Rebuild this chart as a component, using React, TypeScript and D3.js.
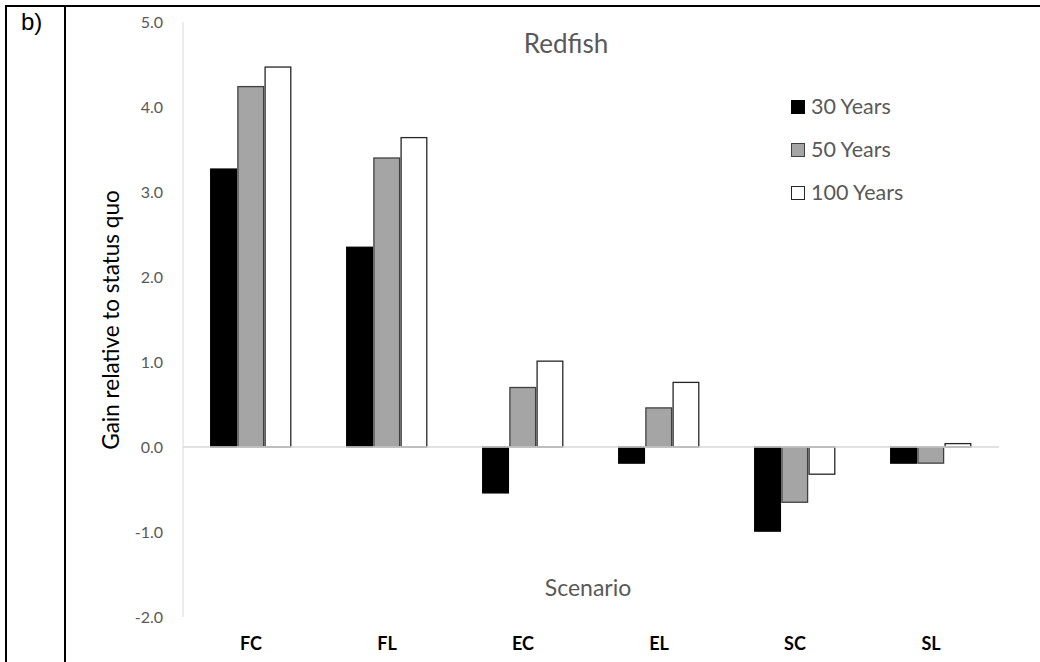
import React from 'react';
import * as d3 from 'd3';

const width = 1040;
const height = 662;
const font = 'Lato, sans-serif';
const grey = '#595959';

const scenarios = ['FC', 'FL', 'EC', 'EL', 'SC', 'SL'];
const seriesNames = ['30 Years', '50 Years', '100 Years'];
const years30 = [3.27, 2.35, -0.54, -0.19, -0.99, -0.19];
const years50 = [4.24, 3.4, 0.7, 0.46, -0.65, -0.19];
const years100 = [4.47, 3.64, 1.01, 0.76, -0.32, 0.04];
const yTicks = [5, 4, 3, 2, 1, 0, -1, -2];

const fills = ['#000000', '#a5a5a5', '#ffffff'];
const strokes = ['#000000', '#404040', '#262626'];

const plot = { left: 183, right: 999, top: 22, bottom: 617 };

// excel style: plain hyphen for negatives
const fmt = (v: number) => d3.format('.1f')(v).replace('\u2212', '-');

const App = () => {
  const series = [years30, years50, years100];

  const x0 = d3.scaleBand().domain(scenarios).range([plot.left, plot.right]);
  const x1 = d3
    .scaleBand()
    .domain(seriesNames)
    .range([0, x0.bandwidth()])
    .paddingOuter(1);
  const y = d3.scaleLinear().domain([-2, 5]).range([plot.bottom, plot.top]);

  return (
    <svg
      width={width}
      height={height}
      style={{ position: 'absolute', left: 0, top: 0, background: '#fff' }}
    >
      {/* table borders */}
      <line x1={5} x2={width} y1={6} y2={6} stroke="#000" strokeWidth={2} />
      <line x1={6} x2={6} y1={5} y2={height} stroke="#000" strokeWidth={2} />
      <line x1={65} x2={65} y1={5} y2={height} stroke="#000" strokeWidth={2} />
      <text x={21} y={30} fontFamily="'Liberation Sans', Arial, sans-serif" fontSize={24}>
        b)
      </text>

      {/* y axis */}
      <line x1={plot.left} x2={plot.left} y1={plot.top} y2={plot.bottom} stroke="#d9d9d9" />
      {yTicks.map(t => (
        <text
          key={t}
          x={163}
          y={y(t)}
          dy="0.35em"
          textAnchor="end"
          fontFamily={font}
          fontSize={16}
          fill={grey}
        >
          {fmt(t)}
        </text>
      ))}

      {/* bars */}
      {scenarios.map((s, i) => (
        <g key={s} transform={`translate(${x0(s)},0)`}>
          {series.map((vals, j) => {
            const v = vals[i];
            const x = (x1(seriesNames[j]) as number) + 0.5;
            const top = y(Math.max(0, v));
            const h = Math.abs(y(v) - y(0));
            return (
              <rect
                key={j}
                x={x}
                y={top}
                width={x1.bandwidth() - 1.5}
                height={h}
                fill={fills[j]}
                stroke={strokes[j]}
                strokeWidth={1.3}
              />
            );
          })}
        </g>
      ))}

      {/* zero line */}
      <line x1={plot.left} x2={plot.right} y1={y(0)} y2={y(0)} stroke="#d9d9d9" strokeWidth={1.5} />

      {/* category labels */}
      {scenarios.map(s => (
        <text
          key={s}
          x={(x0(s) as number) + x0.bandwidth() / 2}
          y={650}
          textAnchor="middle"
          fontFamily={font}
          fontWeight="bold"
          fontSize={18}
          fill="#000"
        >
          {s}
        </text>
      ))}

      {/* titles */}
      <text x={566} y={53} textAnchor="middle" fontFamily={font} fontSize={26} fill={grey}>
        Redfish
      </text>
      <text x={588} y={596} textAnchor="middle" fontFamily={font} fontSize={23} fill={grey}>
        Scenario
      </text>
      <text
        transform="translate(119,320) rotate(-90)"
        textAnchor="middle"
        fontFamily={font}
        fontSize={22.5}
        fill="#000"
      >
        Gain relative to status quo
      </text>

      {/* legend */}
      {seriesNames.map((name, j) => (
        <g key={name} transform={`translate(791,${100 + j * 43})`}>
          <rect
            x={0.5}
            y={0.5}
            width={13}
            height={13}
            fill={fills[j]}
            stroke={strokes[j]}
            strokeWidth={1}
          />
          <text x={20} y={13.5} fontFamily={font} fontSize={21.5} fill={grey}>
            {name}
          </text>
        </g>
      ))}
    </svg>
  );
};

export default App;
